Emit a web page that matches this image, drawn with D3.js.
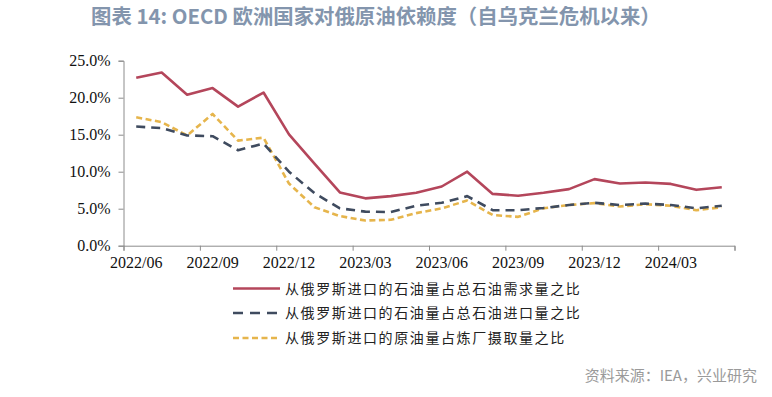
<!DOCTYPE html>
<html>
<head>
<meta charset="utf-8">
<script src="https://cdn.jsdelivr.net/npm/d3@7"></script>
<style>
  body { margin: 0; background: #fff; }
  svg { display: block; }
</style>
</head>
<body>
<svg id="chart"></svg>
<script>
// months from 2022/06 to 2024/05
var months = ["2022/06","2022/07","2022/08","2022/09","2022/10","2022/11","2022/12",
  "2023/01","2023/02","2023/03","2023/04","2023/05","2023/06","2023/07","2023/08",
  "2023/09","2023/10","2023/11","2023/12","2024/01","2024/02","2024/03","2024/04","2024/05"];

// 从俄罗斯进口的石油量占总石油需求量之比
var demandShare = [22.7,23.4,20.4,21.3,18.8,20.7,15.05,11.1,7.2,6.4,6.7,7.15,8.0,10.0,
  7.0,6.75,7.15,7.65,9.0,8.4,8.55,8.35,7.55,7.9];
// 从俄罗斯进口的石油量占总石油进口量之比
var importShare = [16.1,15.9,14.9,14.8,12.9,13.8,10.0,7.1,5.05,4.6,4.55,5.4,5.8,6.7,
  4.8,4.8,5.1,5.5,5.8,5.5,5.7,5.5,5.05,5.4];
// 从俄罗斯进口的原油量占炼厂摄取量之比
var refineryShare = [17.35,16.7,14.9,17.8,14.2,14.6,8.4,5.2,4.0,3.4,3.5,4.4,5.05,6.1,
  4.15,3.9,5.05,5.5,5.75,5.3,5.6,5.4,4.8,5.2];

var xTickLabels = ["2022/06","2022/09","2022/12","2023/03","2023/06","2023/09","2023/12","2024/03"];
var yTicks = [0,5,10,15,20,25];

var series = [
  {name:"从俄罗斯进口的石油量占总石油需求量之比", values:demandShare, color:"#b4465b", dash:null, legDash:null},
  {name:"从俄罗斯进口的石油量占总石油进口量之比", values:importShare, color:"#3f4b5f", dash:"9,6", legDash:"10,7"},
  {name:"从俄罗斯进口的原油量占炼厂摄取量之比", values:refineryShare, color:"#e6b54c", dash:"6,3.5", legDash:"6,3.5"}
];

var width = 772, height = 397;
var plotLeft = 123.5, plotRight = 734.5, plotTop = 60.7, plotBottom = 245.7;

var svg = d3.select("#chart").attr("width", width).attr("height", height);

// title
svg.append("text")
  .attr("x", 91).attr("y", 24)
  .attr("font-family", "'Noto Sans CJK SC', 'Noto Sans', sans-serif")
  .attr("font-size", 20.4).attr("font-weight", "bold")
  .attr("fill", "#8395ad")
  .text("图表 14: OECD 欧洲国家对俄原油依赖度（自乌克兰危机以来）");

var x = d3.scaleBand().domain(months).range([plotLeft, plotRight]).padding(0);
var xEdge = d3.scaleLinear().domain([0, months.length]).range([plotLeft, plotRight]);
var y = d3.scaleLinear().domain([0, 25]).range([plotBottom, plotTop]);

// y axis
svg.append("g")
  .attr("transform", "translate(" + plotLeft + ",0)")
  .call(d3.axisLeft(y).tickValues(yTicks).tickSize(5).tickPadding(8)
    .tickFormat(function(d){ return d.toFixed(1) + "%"; }));

// x axis tick marks at boundaries
svg.append("g")
  .attr("transform", "translate(0," + plotBottom + ")")
  .call(d3.axisBottom(xEdge).tickValues(d3.range(0, months.length + 1, 3)).tickSize(5).tickFormat(""));

// x axis labels under the band centers
var xLabels = svg.append("g")
  .attr("transform", "translate(0," + plotBottom + ")")
  .call(d3.axisBottom(x).tickValues(xTickLabels).tickSize(0).tickPadding(11));
xLabels.select(".domain").remove();

svg.selectAll(".domain").attr("stroke", "#8c8c8c").attr("stroke-width", 1);
svg.selectAll(".tick line").attr("stroke", "#8c8c8c");
svg.selectAll(".tick text")
  .attr("font-family", "'Liberation Serif', 'Times New Roman', serif")
  .attr("font-size", 16).attr("fill", "#111");

var line = d3.line()
  .x(function(d, i){ return x(months[i]) + x.bandwidth() / 2; })
  .y(function(d){ return y(d); });

// draw order: red, yellow, blue
[series[0], series[2], series[1]].forEach(function(s){
  svg.append("path")
    .datum(s.values)
    .attr("d", line)
    .attr("fill", "none")
    .attr("stroke", s.color)
    .attr("stroke-width", 2.6)
    .attr("stroke-dasharray", s.dash)
    .attr("stroke-linejoin", "round");
});

// legend
var legY = [288.5, 313, 338];
var leg = svg.selectAll(".leg")
  .data(series)
  .enter()
  .append("g")
  .attr("class", "leg")
  .attr("transform", function(d, i){ return "translate(233," + legY[i] + ")"; });

leg.append("line")
  .attr("x1", 0).attr("x2", 47).attr("y1", 0).attr("y2", 0)
  .attr("stroke", function(d){ return d.color; })
  .attr("stroke-width", 2.6)
  .attr("stroke-dasharray", function(d){ return d.legDash; });

leg.append("text")
  .attr("x", 52).attr("y", 5)
  .attr("font-family", "'Noto Sans CJK SC', sans-serif")
  .attr("font-size", 14)
  .attr("letter-spacing", "1.6px")
  .attr("fill", "#222")
  .text(function(d){ return d.name; });

// source
svg.append("text")
  .attr("x", 757).attr("y", 381)
  .attr("text-anchor", "end")
  .attr("font-family", "'Noto Sans CJK SC', sans-serif")
  .attr("font-size", 15)
  .attr("fill", "#9a9a9a")
  .text("资料来源：IEA，兴业研究");
</script>
</body>
</html>
